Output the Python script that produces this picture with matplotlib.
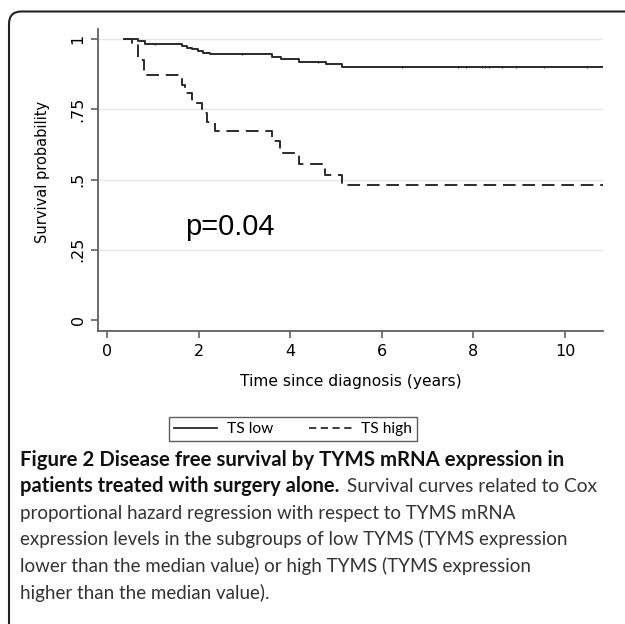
import numpy as np
import matplotlib
matplotlib.use("Agg")
import matplotlib.pyplot as plt
from matplotlib.lines import Line2D
from matplotlib.patches import FancyBboxPatch

# Kaplan-Meier steps (time in years, survival probability)
LOW_T = [0.36, 0.67, 0.83, 1.63, 1.74, 1.86, 1.99, 2.10, 2.25, 3.61, 3.79, 4.19, 4.78, 5.14, 10.83]
LOW_S = [1.0, 0.994, 0.982, 0.976, 0.970, 0.964, 0.958, 0.952, 0.946, 0.937, 0.928, 0.919, 0.910, 0.899, 0.899]
LOW_CENSOR = [1.05, 2.94, 4.6, 6.45, 7.67, 7.83, 8.18, 8.25, 8.33, 8.62, 8.93, 9.55, 10.48]

HIGH_T = [0.36, 0.55, 0.68, 0.81, 1.63, 1.70, 1.85, 2.08, 2.18, 2.36, 3.60, 3.78, 4.18, 4.76, 5.12, 10.83]
HIGH_S = [1.0, 0.983, 0.925, 0.872, 0.836, 0.807, 0.773, 0.738, 0.706, 0.674, 0.636, 0.595, 0.554, 0.516, 0.480, 0.480]

X_TICKS = [0, 2, 4, 6, 8, 10]
Y_TICKS = [0, 0.25, 0.5, 0.75, 1]
Y_TICKLABELS = ["0", ".25", ".5", ".75", "1"]

CAPTION_BOLD_1 = "Figure 2 Disease free survival by TYMS mRNA expression in"
CAPTION_BOLD_2 = "patients treated with surgery alone."
CAPTION_REST_2 = " Survival curves related to Cox"
CAPTION_LINES = [
    "proportional hazard regression with respect to TYMS mRNA",
    "expression levels in the subgroups of low TYMS (TYMS expression",
    "lower than the median value) or high TYMS (TYMS expression",
    "higher than the median value).",
]

LINE_COLOR = "#2b2b2b"
AXIS_COLOR = "#606060"

W, H = 625, 624
fig = plt.figure(figsize=(W / 100, H / 100), dpi=100)
fig.patch.set_facecolor("white")

# plot area in pixel terms -> figure fractions
left, right, top, bottom = 98, 603, 29, 331
ax = fig.add_axes([left / W, 1 - bottom / H, (right - left) / W, (bottom - top) / H])

ax.step(LOW_T, LOW_S, where="post", color=LINE_COLOR, lw=1.4)
ax.step(HIGH_T, HIGH_S, where="post", color=LINE_COLOR, lw=1.4, dashes=(6.5, 3.5))

# censoring marks on the low curve
idx = np.searchsorted(LOW_T, LOW_CENSOR, side="right") - 1
ax.plot(LOW_CENSOR, np.array(LOW_S)[idx], ls="none", marker="|",
        ms=2.0, mew=0.9, color=LINE_COLOR)

ax.set_xlim(-0.2, 10.83)
ax.set_ylim(-0.039, 1.036)
ax.set_xticks(X_TICKS)
ax.set_yticks(Y_TICKS)
ax.set_yticklabels(Y_TICKLABELS, rotation=90, va="center")

for y in Y_TICKS[1:]:
    ax.axhline(y, color="#e6e6e6", lw=1.0, zorder=0)

for side in ["top", "right"]:
    ax.spines[side].set_visible(False)
for side in ["left", "bottom"]:
    ax.spines[side].set_color(AXIS_COLOR)
    ax.spines[side].set_linewidth(1.3)
ax.tick_params(axis="both", direction="out", length=5, width=1.2,
               color=AXIS_COLOR, labelsize=11.5, labelcolor="black", pad=4)

ax.set_xlabel("Time since diagnosis (years)", fontsize=11.2, labelpad=11)
ax.set_ylabel("Survival probability", fontsize=10.5)
ax.yaxis.set_label_coords(-0.095, 0.527)

ax.text(1.70, 0.302, "p=0.04", fontsize=21, family="Liberation Sans",
        va="baseline", ha="left", color="black")

# legend below plot
handles = [Line2D([], [], color=LINE_COLOR, lw=1.3),
           Line2D([], [], color=LINE_COLOR, lw=1.3, dashes=(4, 2.5))]
leg = fig.legend(handles, ["TS low", "TS high"], loc="center", ncol=2,
                 bbox_to_anchor=(293 / W, 1 - 429 / H),
                 prop={"family": "Lato", "size": 11.2}, frameon=True, fancybox=False,
                 handlelength=2.8, handletextpad=0.6, columnspacing=2.3,
                 borderpad=0.3)
leg.get_frame().set_edgecolor("#333333")
leg.get_frame().set_linewidth(1.0)

# caption
cap_font = "Lato"
x0 = 20 / W
fig.text(x0, 1 - 466 / H, CAPTION_BOLD_1, fontsize=14.7, fontweight="bold",
         family=cap_font, va="baseline", color="#111111")
t_bold = fig.text(x0, 1 - 492.5 / H, CAPTION_BOLD_2, fontsize=14.5,
                  fontweight="bold", family=cap_font, va="baseline", color="#111111")
fig.canvas.draw()
bb = t_bold.get_window_extent(renderer=fig.canvas.get_renderer())
fig.text(bb.x1 / W + 0.004, 1 - 492.5 / H, CAPTION_REST_2, fontsize=13.8,
         family=cap_font, va="baseline", color="#333333")
for i, line in enumerate(CAPTION_LINES):
    fig.text(x0, 1 - (519 + 26.5 * i) / H, line, fontsize=13.5,
             family=cap_font, va="baseline", color="#333333")

# rounded frame, running off the right and bottom edges
frame = FancyBboxPatch((9 / W, -0.1), 1.2, 1 - 11.5 / H + 0.1,
                       boxstyle="round,pad=0,rounding_size=0.02",
                       transform=fig.transFigure, fill=False,
                       edgecolor="#222222", lw=1.5)
fig.add_artist(frame)

fig.savefig("out.png", dpi=100)
